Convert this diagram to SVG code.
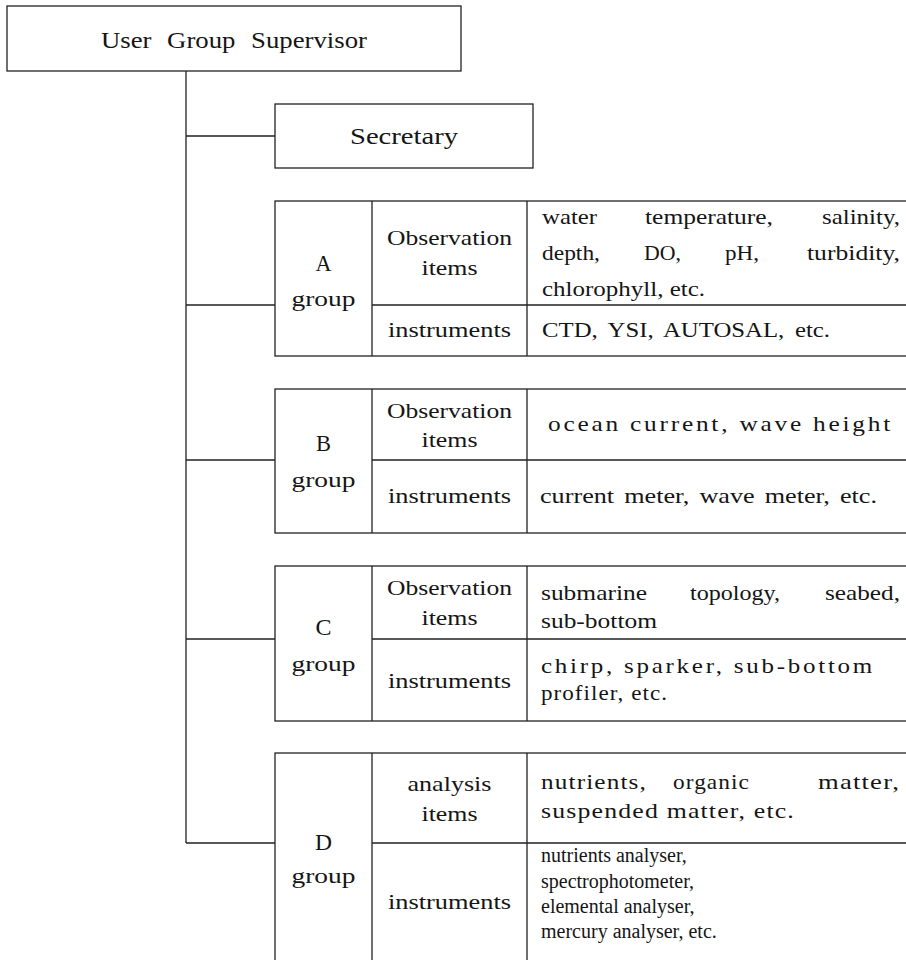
<svg xmlns="http://www.w3.org/2000/svg" width="906" height="960" viewBox="0 0 906 960">
<style>
  .bx{fill:#fff;stroke:#222;stroke-width:1.3}
  .ln{fill:none;stroke:#222;stroke-width:1.3}
  text{font-family:"Liberation Serif","Times New Roman",serif;font-size:22px;fill:#151515}
  .c{text-anchor:middle}
  .big{font-size:24px}
  .cap{font-size:23px}
  .sp{letter-spacing:2.4px}
  .sp1{letter-spacing:1px}
  .tnr{font-size:20px}
</style>
<rect width="906" height="960" fill="#fff"/>
<g id="connectors">
  <path class="ln" d="M186,71 V843 M186,136 H275 M186,305 H275 M186,460 H275 M186,639 H275 M186,843 H275"/>
</g>
<g id="supervisor">
  <rect class="bx" x="7" y="6" width="454" height="65"/>
  <text class="c big" x="234" y="48" word-spacing="8" textLength="266" lengthAdjust="spacingAndGlyphs">User Group Supervisor</text>
</g>
<g id="secretary">
  <rect class="bx" x="275" y="104" width="258" height="64"/>
  <text class="c big" x="404" y="144" textLength="108" lengthAdjust="spacingAndGlyphs">Secretary</text>
</g>
<g id="groupA">
  <rect class="bx" x="275" y="201" width="640" height="155"/>
  <path class="ln" d="M372,201 V356 M527,201 V356 M372,305 H906"/>
  <text class="c cap" x="323.5" y="271" textLength="16" lengthAdjust="spacingAndGlyphs">A</text>
  <text class="c" x="323.5" y="306" textLength="64" lengthAdjust="spacingAndGlyphs">group</text>
  <text class="c" x="449.5" y="245" textLength="125" lengthAdjust="spacingAndGlyphs">Observation</text>
  <text class="c" x="449.5" y="275" textLength="56" lengthAdjust="spacingAndGlyphs">items</text>
  <text class="c" x="449.5" y="337" textLength="123" lengthAdjust="spacingAndGlyphs">instruments</text>
  <text x="542" y="224" textLength="55" lengthAdjust="spacingAndGlyphs">water</text>
  <text x="645" y="224" textLength="128" lengthAdjust="spacingAndGlyphs">temperature,</text>
  <text x="822" y="224" textLength="78" lengthAdjust="spacingAndGlyphs">salinity,</text>
  <text x="542" y="260" textLength="58" lengthAdjust="spacingAndGlyphs">depth,</text>
  <text x="644" y="260" textLength="37" lengthAdjust="spacingAndGlyphs">DO,</text>
  <text x="725" y="260" textLength="34" lengthAdjust="spacingAndGlyphs">pH,</text>
  <text x="807" y="260" textLength="93" lengthAdjust="spacingAndGlyphs">turbidity,</text>
  <text x="542" y="296" textLength="163" lengthAdjust="spacingAndGlyphs">chlorophyll, etc.</text>
  <text x="542" y="337" textLength="288" lengthAdjust="spacingAndGlyphs" word-spacing="4">CTD, YSI, AUTOSAL, etc.</text>
</g>
<g id="groupB">
  <rect class="bx" x="275" y="389" width="640" height="144"/>
  <path class="ln" d="M372,389 V533 M527,389 V533 M372,460 H906"/>
  <text class="c cap" x="323.5" y="451" textLength="15" lengthAdjust="spacingAndGlyphs">B</text>
  <text class="c" x="323.5" y="487" textLength="64" lengthAdjust="spacingAndGlyphs">group</text>
  <text class="c" x="449.5" y="418" textLength="125" lengthAdjust="spacingAndGlyphs">Observation</text>
  <text class="c" x="449.5" y="447" textLength="56" lengthAdjust="spacingAndGlyphs">items</text>
  <text class="c" x="449.5" y="503" textLength="123" lengthAdjust="spacingAndGlyphs">instruments</text>
  <text class="sp" x="548" y="431" textLength="345" lengthAdjust="spacingAndGlyphs">ocean current, wave height</text>
  <text x="540" y="503" textLength="337" lengthAdjust="spacingAndGlyphs" word-spacing="3">current meter, wave meter, etc.</text>
</g>
<g id="groupC">
  <rect class="bx" x="275" y="566" width="640" height="155"/>
  <path class="ln" d="M372,566 V721 M527,566 V721 M372,639 H906"/>
  <text class="c cap" x="323.5" y="635" textLength="16" lengthAdjust="spacingAndGlyphs">C</text>
  <text class="c" x="323.5" y="671" textLength="64" lengthAdjust="spacingAndGlyphs">group</text>
  <text class="c" x="449.5" y="595" textLength="125" lengthAdjust="spacingAndGlyphs">Observation</text>
  <text class="c" x="449.5" y="625" textLength="56" lengthAdjust="spacingAndGlyphs">items</text>
  <text class="c" x="449.5" y="688" textLength="123" lengthAdjust="spacingAndGlyphs">instruments</text>
  <text x="541" y="600" textLength="106" lengthAdjust="spacingAndGlyphs">submarine</text>
  <text x="690" y="600" textLength="90" lengthAdjust="spacingAndGlyphs">topology,</text>
  <text x="825" y="600" textLength="75" lengthAdjust="spacingAndGlyphs">seabed,</text>
  <text x="541" y="628" textLength="116" lengthAdjust="spacingAndGlyphs">sub-bottom</text>
  <text class="sp" x="541" y="673" textLength="334" lengthAdjust="spacingAndGlyphs">chirp, sparker, sub-bottom</text>
  <text class="sp1" x="541" y="700" textLength="127" lengthAdjust="spacingAndGlyphs">profiler, etc.</text>
</g>
<g id="groupD">
  <rect class="bx" x="275" y="753" width="640" height="220"/>
  <path class="ln" d="M372,753 V962 M527,753 V962 M372,843 H906"/>
  <text class="c cap" x="323.5" y="850" textLength="17" lengthAdjust="spacingAndGlyphs">D</text>
  <text class="c" x="323.5" y="883" textLength="64" lengthAdjust="spacingAndGlyphs">group</text>
  <text class="c" x="449.5" y="791" textLength="84" lengthAdjust="spacingAndGlyphs">analysis</text>
  <text class="c" x="449.5" y="821" textLength="56" lengthAdjust="spacingAndGlyphs">items</text>
  <text class="c" x="449.5" y="909" textLength="123" lengthAdjust="spacingAndGlyphs">instruments</text>
  <text class="sp1" x="541" y="789" textLength="106" lengthAdjust="spacingAndGlyphs">nutrients,</text>
  <text class="sp1" x="673" y="789" textLength="77" lengthAdjust="spacingAndGlyphs">organic</text>
  <text class="sp1" x="818" y="789" textLength="82" lengthAdjust="spacingAndGlyphs">matter,</text>
  <text class="sp1" x="541" y="818" textLength="254" lengthAdjust="spacingAndGlyphs">suspended matter, etc.</text>
  <text class="tnr" x="541" y="862">nutrients analyser,</text>
  <text class="tnr" x="541" y="888">spectrophotometer,</text>
  <text class="tnr" x="541" y="913">elemental analyser,</text>
  <text class="tnr" x="541" y="938">mercury analyser, etc.</text>
</g>
</svg>
